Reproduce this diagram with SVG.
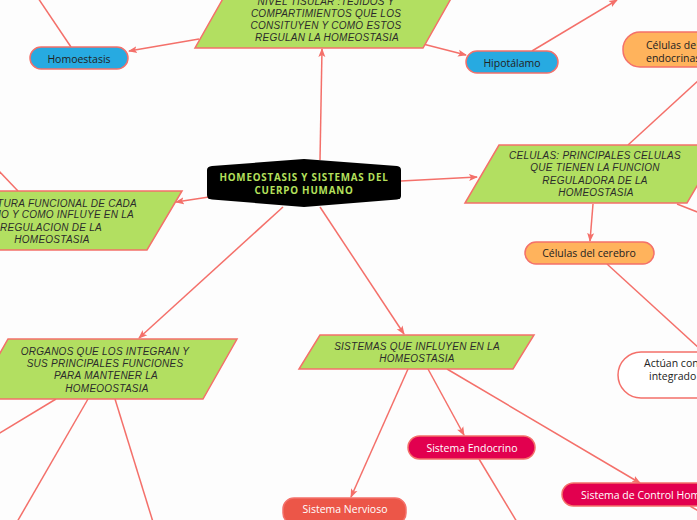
<svg xmlns="http://www.w3.org/2000/svg" width="697" height="520" viewBox="0 0 697 520">
<defs>
<marker id="ah" viewBox="0 0 9 8" refX="8" refY="4" markerWidth="9" markerHeight="8" markerUnits="userSpaceOnUse" orient="auto">
<path d="M0,0.5 L9,4 L0,7.5 L2,4 Z" fill="#f4706a"/>
</marker>
</defs>
<style>
.c{stroke:#f4706a;stroke-width:1.5;fill:none}
.a{marker-end:url(#ah)}
.g{fill:#b2df61;stroke:#f4706a;stroke-width:1.5}
.gt{font-family:"Liberation Sans",Arial,sans-serif;font-style:italic;font-size:10px;letter-spacing:0.25px;fill:#2b2b2b;text-anchor:middle}
.p{stroke:#f4706a;stroke-width:1.5}
.pt{font-family:"Open Sans",sans-serif;font-size:10.5px;fill:#222;text-anchor:middle}
.wt{font-family:"Open Sans",sans-serif;font-size:10.5px;fill:#ffffff;text-anchor:middle}
</style>
<rect width="697" height="520" fill="#fdfdfd"/>
<g id="connectors">
<line class="c a" x1="199" y1="39" x2="129" y2="51"/>
<line class="c" x1="71" y1="47" x2="38" y2="-2"/>
<line class="c a" x1="423" y1="44" x2="466" y2="55"/>
<line class="c a" x1="532" y1="51" x2="617" y2="0"/>
<line class="c a" x1="320" y1="160" x2="322" y2="49"/>
<line class="c a" x1="401" y1="181" x2="477" y2="177"/>
<line class="c" x1="628" y1="145" x2="700" y2="79"/>
<line class="c" x1="677" y1="204" x2="700" y2="213"/>
<line class="c a" x1="593" y1="204" x2="590" y2="241"/>
<line class="c" x1="607" y1="264" x2="700" y2="349"/>
<line class="c a" x1="209" y1="197" x2="176" y2="202"/>
<line class="c" x1="18" y1="191" x2="-2" y2="170"/>
<line class="c a" x1="283" y1="207" x2="139" y2="338"/>
<line class="c" x1="56" y1="399" x2="-2" y2="434"/>
<line class="c" x1="88" y1="399" x2="17" y2="522"/>
<line class="c" x1="115" y1="399" x2="153" y2="522"/>
<line class="c a" x1="320" y1="207" x2="404" y2="334"/>
<line class="c a" x1="408" y1="369" x2="351" y2="497"/>
<line class="c a" x1="428" y1="369" x2="464" y2="435"/>
<line class="c a" x1="447" y1="369" x2="640" y2="483"/>
<line class="c" x1="479" y1="459" x2="517" y2="522"/>
<line class="c" x1="690" y1="506" x2="700" y2="512"/>
</g>
<g id="center">
<path d="M212,166 L304,159 L397,166 Q401,166.5 401,170 L401,196 Q401,199 397,199.5 L304,207 L212,199.5 Q207,199 207,195 L207,170 Q207,166.5 212,166 Z" fill="#000000"/>
<text x="304" y="180.5" font-family="Open Sans, sans-serif" font-weight="bold" font-size="9.8" letter-spacing="0.8" fill="#b5e15c" text-anchor="middle">HOMEOSTASIS Y SISTEMAS DEL</text>
<text x="304" y="193.5" font-family="Open Sans, sans-serif" font-weight="bold" font-size="9.8" letter-spacing="0.8" fill="#b5e15c" text-anchor="middle">CUERPO HUMANO</text>
</g>
<g id="tisular">
<polygon class="g" points="229,-12 457,-12 423,48 195,48"/>
<text class="gt" x="326" y="4.5">NIVEL TISULAR :TEJIDOS Y</text>
<text class="gt" x="326" y="16.5">COMPARTIMIENTOS QUE LOS</text>
<text class="gt" x="326" y="28.5">CONSITUYEN Y COMO ESTOS</text>
<text class="gt" x="327" y="40.5">REGULAN LA HOMEOSTASIA</text>
</g>
<g id="homoestasis">
<rect class="p" x="30" y="47" width="98" height="22" rx="11" fill="#27aae1"/>
<text class="pt" x="79" y="62.5">Homoestasis</text>
</g>
<g id="hipotalamo">
<rect class="p" x="466" y="51" width="92" height="22" rx="11" fill="#27aae1"/>
<text class="pt" x="512" y="66.5">Hipotálamo</text>
</g>
<g id="endocrinas">
<rect class="p" x="623" y="32" width="130" height="35" rx="17" fill="#ffb35c"/>
<text class="pt" x="646" y="48.5" style="text-anchor:start">Células de</text>
<text class="pt" x="646" y="61.5" style="text-anchor:start">endocrinas</text>
</g>
<g id="celulas">
<polygon class="g" points="499,145 721,145 687,203 465,203"/>
<text class="gt" x="595" y="158.5">CELULAS: PRINCIPALES CELULAS</text>
<text class="gt" x="595" y="171">QUE TIENEN LA FUNCION</text>
<text class="gt" x="595" y="183.5">REGULADORA DE LA</text>
<text class="gt" x="596" y="196">HOMEOSTASIA</text>
</g>
<g id="cerebro">
<rect class="p" x="525" y="242" width="129" height="22" rx="11" fill="#ffb35c"/>
<text class="pt" x="589" y="257">Células del cerebro</text>
</g>
<g id="actuan">
<rect class="p" x="618" y="352" width="130" height="46" rx="23" fill="#ffffff"/>
<text class="pt" x="644" y="367" style="text-anchor:start">Actúan con</text>
<text class="pt" x="649" y="380" style="text-anchor:start">integrado</text>
</g>
<g id="estructura">
<polygon class="g" points="-40,191 182,191 147,250 -75,250"/>
<text class="gt" x="137" y="206.5" style="text-anchor:end">ESTRUCTURA FUNCIONAL DE CADA</text>
<text class="gt" x="134" y="218" style="text-anchor:end">ORGANISMO Y COMO INFLUYE EN LA</text>
<text class="gt" x="51" y="230.5">REGULACION DE LA</text>
<text class="gt" x="52" y="242.5">HOMEOSTASIA</text>
</g>
<g id="organos">
<polygon class="g" points="8,339 237,339 203,399 -26,399"/>
<text class="gt" x="105" y="354.5">ORGANOS QUE LOS INTEGRAN Y</text>
<text class="gt" x="105" y="366.5">SUS PRINCIPALES FUNCIONES</text>
<text class="gt" x="106" y="379">PARA MANTENER LA</text>
<text class="gt" x="107" y="391.5">HOMEOOSTASIA</text>
</g>
<g id="sistemas">
<polygon class="g" points="320,335 534,335 513,369 299,369"/>
<text class="gt" x="417" y="349.5">SISTEMAS QUE INFLUYEN EN LA</text>
<text class="gt" x="417" y="361.5">HOMEOSTASIA</text>
</g>
<g id="sist-endocrino">
<rect class="p" x="408" y="436" width="127" height="23" rx="11.5" fill="#e2004f"/>
<text class="wt" x="472" y="451.5">Sistema Endocrino</text>
</g>
<g id="sist-control">
<rect class="p" x="562" y="483" width="170" height="23" rx="11.5" fill="#e2004f"/>
<text class="wt" x="581" y="498.5" style="text-anchor:start">Sistema de Control Hom</text>
</g>
<g id="sist-nervioso">
<rect class="p" x="283" y="498" width="123" height="26" rx="11" fill="#ec5648"/>
<text class="wt" x="345" y="513">Sistema Nervioso</text>
</g>
</svg>
